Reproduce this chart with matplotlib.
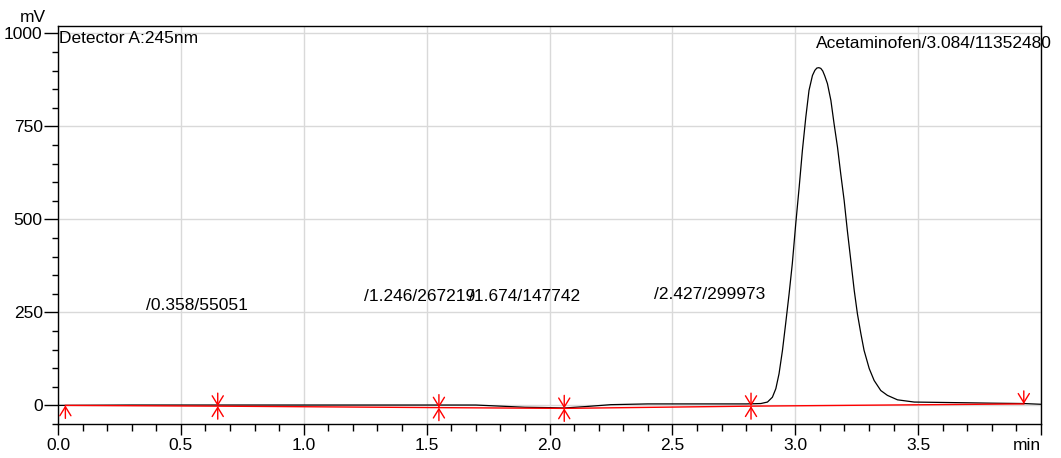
import numpy as np
import matplotlib
matplotlib.use('Agg')
import matplotlib.pyplot as plt
from matplotlib.ticker import MultipleLocator, FixedLocator

plt.rcParams['font.family'] = ['Liberation Sans', 'DejaVu Sans']
plt.rcParams['font.size'] = 12.5

# chromatogram signal (min, mV)
time = [0.0, 0.3, 0.65, 1.0, 1.55, 1.70, 1.80, 1.90, 2.00, 2.06, 2.15, 2.25, 2.40,
        2.60, 2.80, 2.86, 2.887, 2.907, 2.921, 2.934, 2.948, 2.961, 2.975, 2.988,
        3.002, 3.016, 3.029, 3.043, 3.056, 3.070, 3.080, 3.088, 3.096, 3.104, 3.112, 3.120,
        3.131, 3.145, 3.158, 3.172, 3.185, 3.199, 3.212, 3.226, 3.240, 3.253, 3.267, 3.280,
        3.301, 3.321, 3.348, 3.375, 3.416, 3.484, 3.593, 3.70, 3.80, 3.93, 4.0]
signal = [0, 1, 1, 1, 1, 1, -2, -5, -6, -7, -3, 2, 4,
          4, 4, 5, 9, 22, 45, 85, 148, 220, 300, 381,
          488, 587, 685, 775, 847, 887, 901, 907, 908, 906, 899, 886,
          865, 820, 757, 694, 623, 551, 470, 390, 309, 246, 193, 148,
          99, 67, 40, 27, 15, 9, 8, 7, 6, 5, 3]

# integration baseline points
bl_time = [0.03, 0.65, 1.55, 2.06, 2.82, 3.93]
bl_level = [0, -2, -6, -8, -2, 4]
is_start = [True, True, True, True, True, False]
is_end = [False, True, True, True, True, True]

# peak labels
pk_time = [0.358, 1.246, 1.674, 2.427, 3.084]
pk_text = ['/0.358/55051', '/1.246/267219', '/1.674/147742', '/2.427/299973',
           'Acetaminofen/3.084/11352480']
pk_label_y = [269, 293, 293, 298, 973]

fig = plt.figure(figsize=(10.61, 4.58), dpi=100)
ax = fig.add_axes([58/1061, 34/458, 983/1061, 398/458])

ax.plot(time, signal, color='black', lw=0.9, zorder=3)
ax.plot(bl_time, bl_level, color='red', lw=1.0, zorder=4)

arrow = dict(arrowstyle='->,head_length=0.65,head_width=0.4', color='red', lw=1.0,
             shrinkA=0, shrinkB=0, mutation_scale=10)
for t, y, s, e in zip(bl_time, bl_level, is_start, is_end):
    if s:
        ax.annotate('', xy=(t, y), xytext=(0, -13), textcoords='offset pixels',
                    arrowprops=arrow, zorder=5)
    if e:
        ax.annotate('', xy=(t, y), xytext=(0, 13), textcoords='offset pixels',
                    arrowprops=arrow, zorder=5)

for t, txt, ly in zip(pk_time, pk_text, pk_label_y):
    ax.text(t, ly, txt, ha='left', va='center', zorder=6)

ax.text(0.001, 0.988, 'Detector A:245nm', transform=ax.transAxes, ha='left', va='top')
fig.text(33/1061, 1 - 18/458, 'mV', ha='center', va='center')

ax.set_xlim(0, 4.0)
ax.set_ylim(-50, 1020)

xt = [0.0, 0.5, 1.0, 1.5, 2.0, 2.5, 3.0, 3.5, 4.0]
ax.xaxis.set_major_locator(FixedLocator(xt))
ax.set_xticklabels(['0.0', '0.5', '1.0', '1.5', '2.0', '2.5', '3.0', '3.5', 'min'])
ax.get_xticklabels()[-1].set_ha('right')
ax.xaxis.set_minor_locator(MultipleLocator(0.1))
ax.yaxis.set_major_locator(FixedLocator([0, 250, 500, 750, 1000]))
ax.yaxis.set_minor_locator(MultipleLocator(50))

ax.tick_params(axis='x', which='major', length=8, width=1, pad=2)
ax.tick_params(axis='x', which='minor', length=5, width=1)
ax.tick_params(axis='y', which='major', length=10, width=1, pad=1)
ax.tick_params(axis='y', which='minor', length=4, width=1)

ax.grid(True, which='major', color='#d9d9d9', lw=1.0, zorder=0)
ax.set_axisbelow(True)
for sp in ax.spines.values():
    sp.set_linewidth(1.0)
    sp.set_color('black')

plt.savefig('out.png', dpi=100)
plt.close()
